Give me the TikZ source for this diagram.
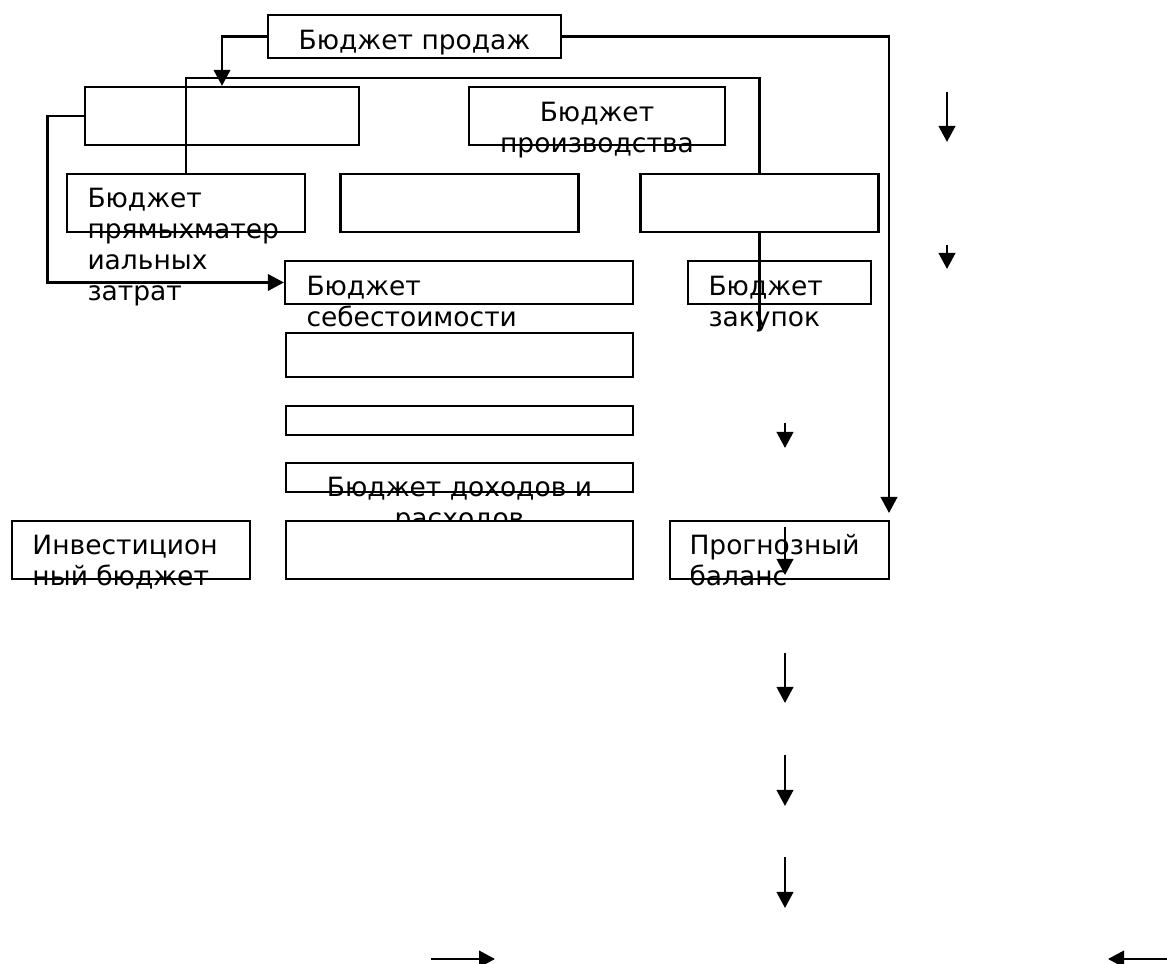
\documentclass[tikz,border=0pt]{standalone}
\usepackage{fontspec}
\setmainfont{DejaVu Sans}
\usetikzlibrary{arrows.meta}

\begin{document}
\begin{tikzpicture}[x=0.4pt, y=-0.4pt,
    budget/.style 2 args={draw, line width=0.9pt, inner sep=0pt,
        minimum width={#1*0.4pt}, minimum height={#2*0.4pt}},
    lbl/.style={inner sep=0pt, anchor=base west, align=left,
        font=\fontsize{10.6pt}{12.4pt}\selectfont},
    conn/.style={line width=0.9pt},
    arr/.style={-{Triangle[length=6.4pt,width=6.6pt]}}]
\useasboundingbox (0,0) rectangle (1167,964);
% Boxes
\node[budget={293}{43}] (prod) at (414.5,36.5) {};
\node[budget={274}{58}] (empty1) at (222,116) {};
\node[budget={256}{58}] (proizv) at (597,116) {};
\node[budget={238}{58}] (pryam) at (186,203) {};
\node[budget={238}{58}] (mid2) at (459.6,203) {};
\node[budget={238}{58}] (right2) at (759.6,203) {};
\node[budget={348}{43}] (sebest) at (459,282.5) {};
\node[budget={183}{43}] (zakup) at (779.5,282.5) {};
\node[budget={347}{44}] (boxA) at (459.5,355) {};
\node[budget={347}{29}] (boxB) at (459.5,420.5) {};
\node[budget={347}{29}] (dohod) at (459.5,477.5) {};
\node[budget={238}{58}] (invest) at (131,550) {};
\node[budget={219}{58}] (prognoz) at (779.5,550) {};
% Labels (placed at the baseline of their last line)
\node[lbl, anchor=base] (prodtxt) at (414.5,50) {Бюджет продаж};
\node[lbl, anchor=base, align=center] (proizvtxt) at (597,153) {Бюджет\\производства};
\node[lbl] (pryamtxt) at (87,301) {Бюджет\\прямыхматер\\иальных\\затрат};
\node[lbl] (sebesttxt) at (306,327) {Бюджет\\себестоимости};
\node[lbl] (zakuptxt) at (708,327) {Бюджет\\закупок};
\node[lbl, anchor=base, align=center] (dohodtxt) at (459.5,528) {Бюджет доходов и\\расходов};
\node[lbl] (investtxt) at (32,586) {Инвестицион\\ный бюджет};
\node[lbl] (prognoztxt) at (689,586) {Прогнозный\\баланс};
% this one hides the second line above
\node[budget={347}{58}, fill=white] (boxD) at (459.5,550) {};
% Links
\coordinate (bus) at (0,78);
\draw[conn,arr] (prod.west) -| (empty1.north);
\draw[conn] (pryam.north) -- (pryam.north |- bus) -| (right2.north);
\draw[conn,arr] (empty1.west) -- ++(-36.4,0) |- (sebest.west);
\coordinate (zakend) at (759.6,330);
\draw[conn] (right2.south) -- (zakend);
\coordinate (balin) at (889,513);
\draw[conn,arr] (prod.east) -| (balin);
% Loose arrows
\foreach \xa/\ya/\xb/\yb [count=\i] in {947/92/947/142, 947/245/947/269,
    785/423/785/448, 785/527/785/575, 785/653/785/703, 785/755/785/806,
    785/857/785/908, 431/959/495/959, 1167/959/1108/959} {
    \coordinate (s\i) at (\xa,\ya);
    \coordinate (e\i) at (\xb,\yb);
    \draw[conn,arr] (s\i) -- (e\i);
}
\end{tikzpicture}
\end{document}
